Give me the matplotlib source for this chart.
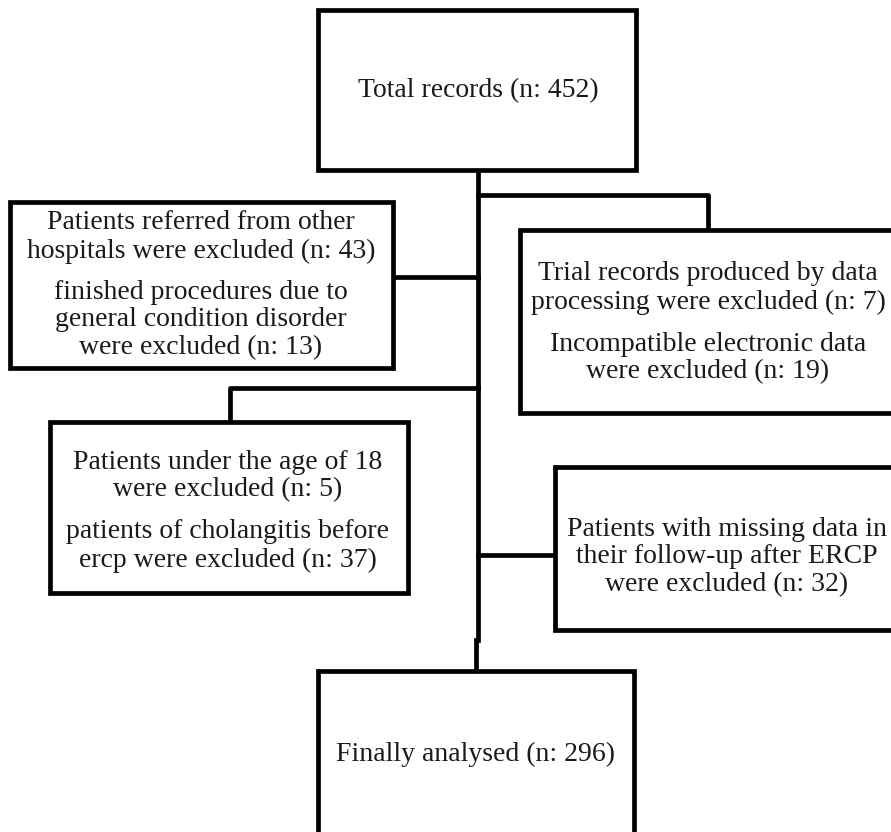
import matplotlib.pyplot as plt
from matplotlib.patches import Rectangle

# flowchart content
top_text = ["Total records (n: 452)"]
left1_text = ["Patients referred from other\nhospitals were excluded (n: 43)",
              "finished procedures due to\ngeneral condition disorder\nwere excluded (n: 13)"]
right1_text = ["Trial records produced by data\nprocessing were excluded (n: 7)",
               "Incompatible electronic data\nwere excluded (n: 19)"]
left2_text = ["Patients under the age of 18\nwere excluded (n: 5)",
              "patients of cholangitis before\nercp were excluded (n: 37)"]
right2_text = ["Patients with missing data in\ntheir follow-up after ERCP\nwere excluded (n: 32)"]
bottom_text = ["Finally analysed (n: 296)"]

# layout in pixels: box (x0, y0, x1, y1), text centre x, paragraph centre ys
boxes = [
    ((318, 10, 636, 170), 478, [91], top_text),
    ((10, 202, 393, 368), 201, [237, 320], left1_text),
    ((520, 230, 900, 413), 708, [288, 358], right1_text),
    ((50, 422, 408, 593), 228, [476, 546], left2_text),
    ((555, 467, 900, 630), 727, [557], right2_text),
    ((318, 671, 634, 900), 475, [754], bottom_text),
]

connectors = [
    ([478, 478], [170, 640]),
    ([476, 476], [640, 671]),
    ([478, 708, 708], [195, 195, 230]),
    ([393, 478], [277, 277]),
    ([478, 230, 230], [388, 388, 422]),
    ([478, 555], [555, 555]),
]

W, H = 891, 832
fig = plt.figure(figsize=(W / 100, H / 100), dpi=100)
ax = fig.add_axes([0, 0, 1, 1])
ax.set_xlim(0, W)
ax.set_ylim(H, 0)
ax.axis("off")

lw = 3.4
for xs, ys in connectors:
    ax.plot(xs, ys, color="black", lw=lw, solid_capstyle="projecting", zorder=1)

for (x0, y0, x1, y1), cx, cys, paras in boxes:
    ax.add_patch(Rectangle((x0, y0), x1 - x0, y1 - y0, facecolor="white",
                           edgecolor="black", lw=lw, zorder=2))
    for cy, txt in zip(cys, paras):
        ax.text(cx, cy, txt, ha="center", va="center", fontsize=20,
                family="Liberation Serif", linespacing=1.15, color="#1a1a1a", zorder=3)

fig.savefig("out.png", dpi=100)
